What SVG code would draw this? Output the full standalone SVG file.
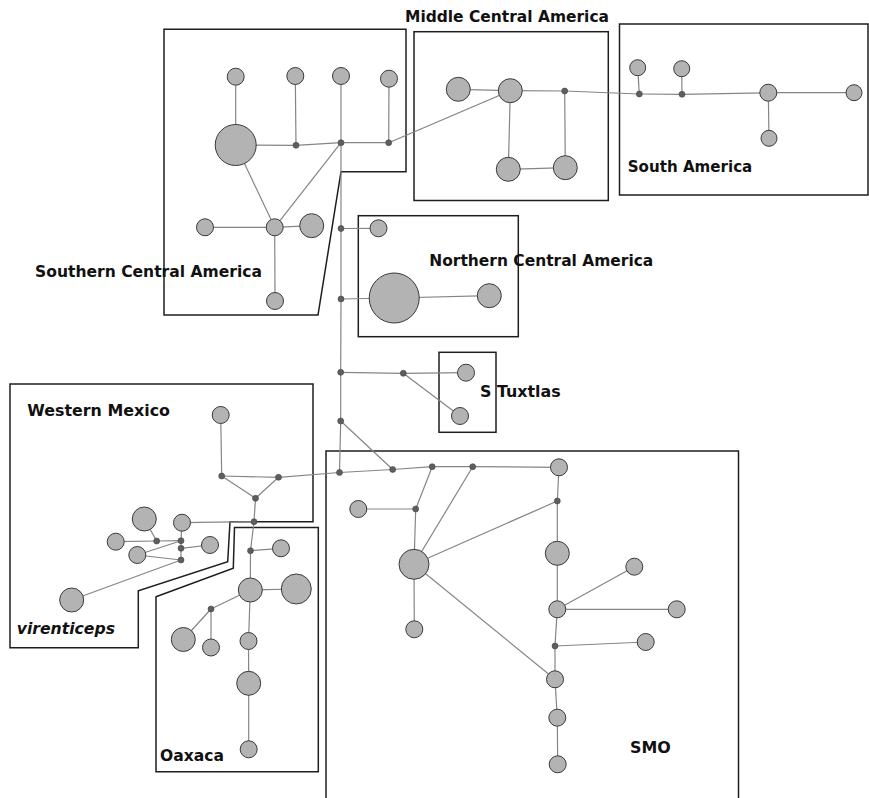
<svg xmlns="http://www.w3.org/2000/svg" width="869" height="798" viewBox="0 0 869 798">
<style>
.bx{fill:none;stroke:#1e1e1e;stroke-width:1.5}
.e line{stroke:#858585;stroke-width:1.2}
.n{fill:#b3b3b3;stroke:#3a3a3a;stroke-width:1}
.j{fill:#5e5e5e;stroke:#444;stroke-width:0.6}
.t{font-family:"DejaVu Sans","Liberation Sans",sans-serif;font-weight:bold;font-size:15px;fill:#111}
</style>
<rect width="869" height="798" fill="#fff"/>
<g id="regions">
<polygon class="bx" points="164,29.3 406,29.3 406,171.7 341,171.7 318,315 164,315"/>
<rect class="bx" x="414" y="31.7" width="194.3" height="168.8"/>
<rect class="bx" x="619.5" y="24" width="248.5" height="171"/>
<rect class="bx" x="358.3" y="215.7" width="160" height="121"/>
<rect class="bx" x="439" y="352.3" width="57" height="80"/>
<polygon class="bx" points="10,384 313,384 313,521.7 230,521.7 227.7,561.7 138.3,590.7 138.3,647.7 10,647.7"/>
<polygon class="bx" points="156,596.7 233.3,568.3 234.5,527.5 318.3,527.5 318.3,771.7 156,771.7"/>
<polyline class="bx" points="326,799 326,451 738.5,451 738.5,799"/>
</g>
<g id="connectors" class="e">
<line x1="235.7" y1="76.7" x2="235.7" y2="145"/>
<line x1="235.7" y1="145" x2="296" y2="145.3"/>
<line x1="296" y1="145.3" x2="295.3" y2="76"/>
<line x1="296" y1="145.3" x2="341" y2="142.7"/>
<line x1="341" y1="142.7" x2="341" y2="76"/>
<line x1="341" y1="142.7" x2="388.7" y2="142.7"/>
<line x1="388.7" y1="142.7" x2="389" y2="78.7"/>
<line x1="235.7" y1="145" x2="274.7" y2="227.3"/>
<line x1="274.7" y1="227.3" x2="341" y2="142.7"/>
<line x1="205" y1="227.3" x2="274.7" y2="227.3"/>
<line x1="274.7" y1="227.3" x2="311.7" y2="225.7"/>
<line x1="274.7" y1="227.3" x2="275" y2="301"/>
<line x1="388.7" y1="142.7" x2="510.3" y2="90.7"/>
<line x1="341" y1="142.7" x2="341" y2="228.5"/>
<line x1="341" y1="228.5" x2="341" y2="299"/>
<line x1="341" y1="299" x2="340.7" y2="372.3"/>
<line x1="340.7" y1="372.3" x2="340.7" y2="421"/>
<line x1="340.7" y1="421" x2="339.5" y2="472.5"/>
<line x1="341" y1="228.5" x2="378.5" y2="228.3"/>
<line x1="341" y1="299" x2="394.2" y2="298"/>
<line x1="394.2" y1="298" x2="489.3" y2="295.7"/>
<line x1="340.7" y1="372.3" x2="403.3" y2="373.3"/>
<line x1="403.3" y1="373.3" x2="466" y2="372.7"/>
<line x1="403.3" y1="373.3" x2="460" y2="416"/>
<line x1="340.7" y1="421" x2="392.7" y2="469.5"/>
<line x1="339.5" y1="472.5" x2="392.7" y2="469.5"/>
<line x1="392.7" y1="469.5" x2="432.2" y2="466.7"/>
<line x1="432.2" y1="466.7" x2="472.7" y2="466.7"/>
<line x1="472.7" y1="466.7" x2="559" y2="467.3"/>
<line x1="559" y1="467.3" x2="557.3" y2="501"/>
<line x1="557.3" y1="501" x2="557.3" y2="553.3"/>
<line x1="557.3" y1="501" x2="414" y2="564.3"/>
<line x1="432.2" y1="466.7" x2="415.7" y2="509"/>
<line x1="415.7" y1="509" x2="358.3" y2="509"/>
<line x1="415.7" y1="509" x2="414" y2="564.3"/>
<line x1="472.7" y1="466.7" x2="414" y2="564.3"/>
<line x1="414" y1="564.3" x2="414.3" y2="629.3"/>
<line x1="414" y1="564.3" x2="555" y2="679.3"/>
<line x1="557.3" y1="553.3" x2="557.3" y2="609.3"/>
<line x1="557.3" y1="609.3" x2="634.3" y2="566.7"/>
<line x1="557.3" y1="609.3" x2="676.7" y2="609.3"/>
<line x1="557.3" y1="609.3" x2="555" y2="646"/>
<line x1="555" y1="646" x2="645.7" y2="642"/>
<line x1="555" y1="646" x2="555" y2="679.3"/>
<line x1="555" y1="679.3" x2="557.3" y2="717.7"/>
<line x1="557.3" y1="717.7" x2="557.7" y2="764.3"/>
<line x1="458.3" y1="89.3" x2="510.3" y2="90.7"/>
<line x1="510.3" y1="90.7" x2="564.7" y2="91"/>
<line x1="510.3" y1="90.7" x2="508.3" y2="169.3"/>
<line x1="508.3" y1="169.3" x2="565.3" y2="167.7"/>
<line x1="564.7" y1="91" x2="565.3" y2="167.7"/>
<line x1="564.7" y1="91" x2="639.3" y2="94"/>
<line x1="639.3" y1="94" x2="637.7" y2="67.7"/>
<line x1="639.3" y1="94" x2="682" y2="94.3"/>
<line x1="682" y1="94.3" x2="681.7" y2="68.7"/>
<line x1="682" y1="94.3" x2="768.3" y2="92.7"/>
<line x1="768.3" y1="92.7" x2="854" y2="92.7"/>
<line x1="768.3" y1="92.7" x2="769" y2="138.3"/>
<line x1="220.7" y1="415" x2="221.7" y2="476"/>
<line x1="221.7" y1="476" x2="278.5" y2="477.3"/>
<line x1="221.7" y1="476" x2="255.5" y2="498.3"/>
<line x1="278.5" y1="477.3" x2="255.5" y2="498.3"/>
<line x1="255.5" y1="498.3" x2="254" y2="521.7"/>
<line x1="278.5" y1="477.3" x2="339.5" y2="472.5"/>
<line x1="254" y1="521.7" x2="182" y2="522.7"/>
<line x1="254" y1="521.7" x2="250.5" y2="550.7"/>
<line x1="182" y1="522.7" x2="181" y2="540.7"/>
<line x1="144.3" y1="519" x2="156.7" y2="541"/>
<line x1="115.7" y1="541.7" x2="156.7" y2="541"/>
<line x1="156.7" y1="541" x2="181" y2="540.7"/>
<line x1="181" y1="540.7" x2="181" y2="548.3"/>
<line x1="181" y1="548.3" x2="181" y2="560"/>
<line x1="181" y1="548.3" x2="210" y2="545"/>
<line x1="137.3" y1="555" x2="181" y2="540.7"/>
<line x1="137.3" y1="555" x2="181" y2="560"/>
<line x1="181" y1="560" x2="71.7" y2="600"/>
<line x1="250.5" y1="550.7" x2="281" y2="548.3"/>
<line x1="250.5" y1="550.7" x2="250.3" y2="590"/>
<line x1="250.3" y1="590" x2="296.3" y2="589"/>
<line x1="250.3" y1="590" x2="211" y2="609"/>
<line x1="211" y1="609" x2="183.3" y2="639.5"/>
<line x1="211" y1="609" x2="211" y2="647.5"/>
<line x1="250.3" y1="590" x2="248.5" y2="641"/>
<line x1="248.5" y1="641" x2="248.7" y2="683.3"/>
<line x1="248.7" y1="683.3" x2="248.7" y2="749.3"/>
</g>
<g id="scam">
<circle class="n" cx="235.7" cy="76.7" r="8.5"/>
<circle class="n" cx="295.3" cy="76" r="8.5"/>
<circle class="n" cx="341" cy="76" r="8.5"/>
<circle class="n" cx="389" cy="78.7" r="8.5"/>
<circle class="n" cx="235.7" cy="145" r="20.5"/>
<circle class="j" cx="296" cy="145.3" r="3"/>
<circle class="j" cx="341" cy="142.7" r="3"/>
<circle class="j" cx="388.7" cy="142.7" r="3"/>
<circle class="n" cx="205" cy="227.3" r="8.5"/>
<circle class="n" cx="274.7" cy="227.3" r="8.5"/>
<circle class="n" cx="311.7" cy="225.7" r="12"/>
<circle class="n" cx="275" cy="301" r="8.5"/>
</g>
<g id="mcam">
<circle class="n" cx="458.3" cy="89.3" r="12"/>
<circle class="n" cx="510.3" cy="90.7" r="12"/>
<circle class="j" cx="564.7" cy="91" r="3"/>
<circle class="n" cx="508.3" cy="169.3" r="12"/>
<circle class="n" cx="565.3" cy="167.7" r="12"/>
</g>
<g id="sam">
<circle class="n" cx="637.7" cy="67.7" r="8"/>
<circle class="j" cx="639.3" cy="94" r="3"/>
<circle class="n" cx="681.7" cy="68.7" r="8"/>
<circle class="j" cx="682" cy="94.3" r="3"/>
<circle class="n" cx="768.3" cy="92.7" r="8.5"/>
<circle class="n" cx="854" cy="92.7" r="8"/>
<circle class="n" cx="769" cy="138.3" r="8"/>
</g>
<g id="ncam">
<circle class="j" cx="341" cy="228.5" r="3"/>
<circle class="n" cx="378.5" cy="228.3" r="8.5"/>
<circle class="j" cx="341" cy="299" r="3"/>
<circle class="n" cx="394.2" cy="298" r="25"/>
<circle class="n" cx="489.3" cy="295.7" r="12"/>
</g>
<g id="tuxtlas">
<circle class="j" cx="340.7" cy="372.3" r="3"/>
<circle class="j" cx="403.3" cy="373.3" r="3"/>
<circle class="n" cx="466" cy="372.7" r="8.5"/>
<circle class="n" cx="460" cy="416" r="8.5"/>
<circle class="j" cx="340.7" cy="421" r="3"/>
</g>
<g id="smo">
<circle class="j" cx="339.5" cy="472.5" r="3"/>
<circle class="j" cx="392.7" cy="469.5" r="3"/>
<circle class="j" cx="432.2" cy="466.7" r="3"/>
<circle class="j" cx="472.7" cy="466.7" r="3"/>
<circle class="n" cx="559" cy="467.3" r="8.5"/>
<circle class="j" cx="557.3" cy="501" r="3"/>
<circle class="n" cx="358.3" cy="509" r="8.5"/>
<circle class="j" cx="415.7" cy="509" r="3"/>
<circle class="n" cx="414" cy="564.3" r="15"/>
<circle class="n" cx="414.3" cy="629.3" r="8.5"/>
<circle class="n" cx="557.3" cy="553.3" r="12"/>
<circle class="n" cx="634.3" cy="566.7" r="8.5"/>
<circle class="n" cx="557.3" cy="609.3" r="8.5"/>
<circle class="n" cx="676.7" cy="609.3" r="8.5"/>
<circle class="j" cx="555" cy="646" r="3"/>
<circle class="n" cx="645.7" cy="642" r="8.5"/>
<circle class="n" cx="555" cy="679.3" r="8.5"/>
<circle class="n" cx="557.3" cy="717.7" r="8.5"/>
<circle class="n" cx="557.7" cy="764.3" r="8.5"/>
</g>
<g id="western">
<circle class="n" cx="220.7" cy="415" r="8.5"/>
<circle class="j" cx="221.7" cy="476" r="3"/>
<circle class="j" cx="278.5" cy="477.3" r="3"/>
<circle class="j" cx="255.5" cy="498.3" r="3"/>
<circle class="j" cx="254" cy="521.7" r="3"/>
<circle class="n" cx="144.3" cy="519" r="12"/>
<circle class="n" cx="182" cy="522.7" r="8.5"/>
<circle class="n" cx="115.7" cy="541.7" r="8.5"/>
<circle class="j" cx="156.7" cy="541" r="3"/>
<circle class="j" cx="181" cy="540.7" r="3"/>
<circle class="j" cx="181" cy="548.3" r="3"/>
<circle class="n" cx="210" cy="545" r="8.5"/>
<circle class="n" cx="137.3" cy="555" r="8.5"/>
<circle class="j" cx="181" cy="560" r="3"/>
<circle class="n" cx="71.7" cy="600" r="12"/>
</g>
<g id="oaxaca">
<circle class="j" cx="250.5" cy="550.7" r="3"/>
<circle class="n" cx="281" cy="548.3" r="8.5"/>
<circle class="n" cx="250.3" cy="590" r="12"/>
<circle class="n" cx="296.3" cy="589" r="15"/>
<circle class="j" cx="211" cy="609" r="3"/>
<circle class="n" cx="183.3" cy="639.5" r="12"/>
<circle class="n" cx="211" cy="647.5" r="8.5"/>
<circle class="n" cx="248.5" cy="641" r="8.5"/>
<circle class="n" cx="248.7" cy="683.3" r="12"/>
<circle class="n" cx="248.7" cy="749.3" r="8.5"/>
</g>
<g id="labels">
<text class="t" x="405" y="21.7" textLength="204" lengthAdjust="spacingAndGlyphs">Middle Central America</text>
<text class="t" x="627.7" y="171.7" textLength="124.6" lengthAdjust="spacingAndGlyphs">South America</text>
<text class="t" x="35" y="276.7" textLength="227" lengthAdjust="spacingAndGlyphs">Southern Central America</text>
<text class="t" x="429.3" y="265.7" textLength="224" lengthAdjust="spacingAndGlyphs">Northern Central America</text>
<text class="t" x="480" y="396.7" textLength="80.7" lengthAdjust="spacingAndGlyphs">S Tuxtlas</text>
<text class="t" x="27.3" y="415.7" textLength="142.7" lengthAdjust="spacingAndGlyphs">Western Mexico</text>
<text class="t" x="16.7" y="634.3" textLength="98.3" lengthAdjust="spacingAndGlyphs" font-style="italic">virenticeps</text>
<text class="t" x="160" y="760.7" textLength="64" lengthAdjust="spacingAndGlyphs">Oaxaca</text>
<text class="t" x="630" y="753.3" textLength="40.7" lengthAdjust="spacingAndGlyphs">SMO</text>
</g>
</svg>
